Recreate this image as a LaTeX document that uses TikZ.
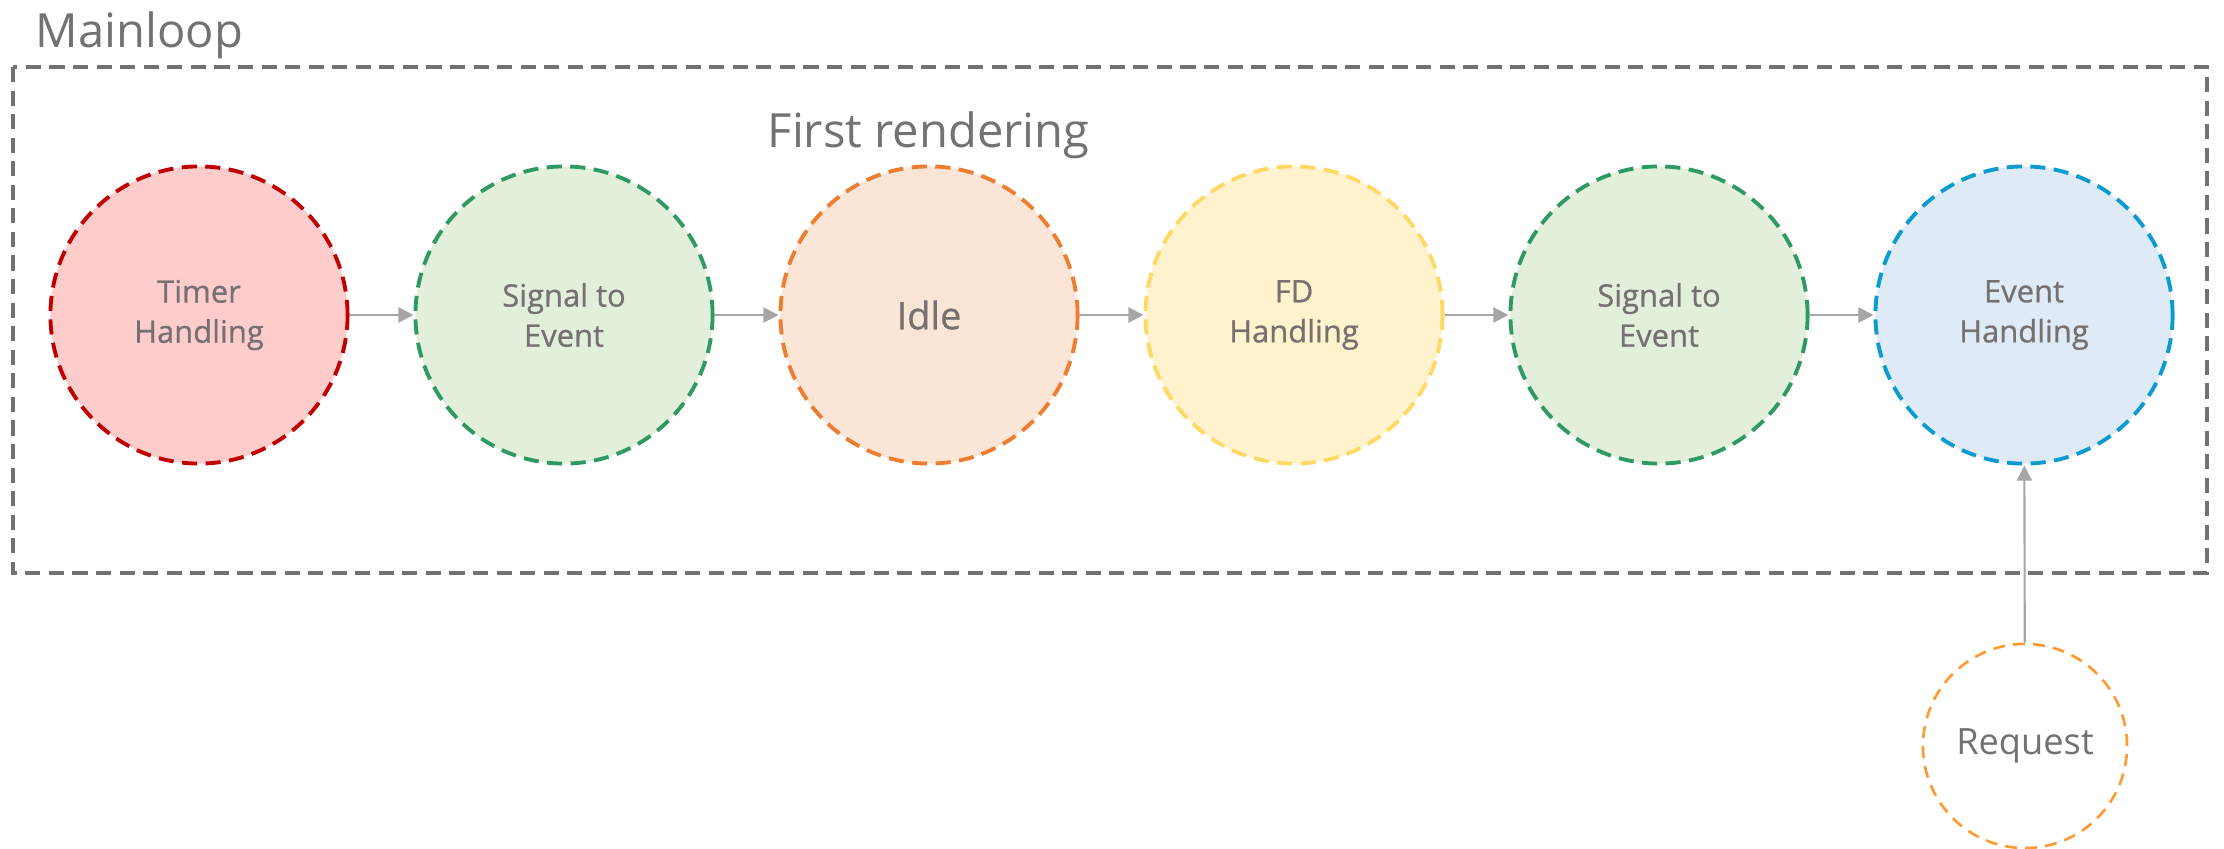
\documentclass[tikz,border=0pt]{standalone}
\usepackage{fontspec}
\setmainfont{Open Sans}
\newfontfamily\stagefont[FakeBold=0.7]{Open Sans}
\usepackage{tikz}
\usetikzlibrary{arrows.meta}
\definecolor{txtgray}{HTML}{767171}
\definecolor{arrowgray}{HTML}{A6A6A6}
\definecolor{timerfill}{HTML}{FFCCCC}
\definecolor{timerline}{HTML}{C00000}
\definecolor{sigfill}{HTML}{E2EFDA}
\definecolor{sigline}{HTML}{2E9962}
\definecolor{idlefill}{HTML}{FBE5D6}
\definecolor{idleline}{HTML}{ED7D31}
\definecolor{fdfill}{HTML}{FFF2CC}
\definecolor{fdline}{HTML}{FFD966}
\definecolor{eventfill}{HTML}{DEEBF7}
\definecolor{eventline}{HTML}{0C9BCF}
\definecolor{reqline}{HTML}{FF9A33}

\begin{document}
\begin{tikzpicture}[x=0.01cm, y=-0.01cm,
  stage/.style={circle, minimum size=2.97cm, inner sep=0pt, line width=1.1pt, dash pattern=on 4.3pt off 2.4pt, align=center, text=txtgray, font=\stagefont\fontsize{8.8pt}{11.4pt}\selectfont},
  title/.style={anchor=base west, inner sep=0pt, text=txtgray, font=\fontsize{13.4pt}{16pt}\selectfont},
  flow/.style={-{Triangle[length=4.3pt,width=4.3pt]}, draw=arrowgray, line width=0.6pt}]
\useasboundingbox (0,0) rectangle (2224,848);
\draw[draw=txtgray, line width=1.4pt, dash pattern=on 4.3pt off 2.4pt] (13,67) rectangle (2207,573);
\node[title] (mainloop) at (35,47) {Mainloop};
\node[title] (firstrender) at (767,147) {First rendering};
\node[stage, fill=timerfill, draw=timerline] (timer) at (199,315) {Timer\\Handling};
\node[stage, fill=sigfill, draw=sigline] (sigA) at (564,315) {Signal to\\Event};
\node[stage, fill=idlefill, draw=idleline, font=\stagefont\fontsize{10.8pt}{13pt}\selectfont] (idle) at (929,315) {Idle};
\node[stage, fill=fdfill, draw=fdline] (fd) at (1294,315) {FD\\Handling};
\node[stage, fill=sigfill, draw=sigline] (sigB) at (1659,315) {Signal to\\Event};
\node[stage, fill=eventfill, draw=eventline] (event) at (2024,315) {Event\\Handling};
\node[stage, minimum size=2.04cm, line width=0.75pt, dash pattern=on 3.4pt off 2.3pt, fill=white, draw=reqline, font=\fontsize{10.3pt}{12pt}\selectfont] (request) at (2025,746) {Request};
\draw[flow] (timer) -- (sigA);
\draw[flow] (sigA) -- (idle);
\draw[flow] (idle) -- (fd);
\draw[flow] (fd) -- (sigB);
\draw[flow] (sigB) -- (event);
\draw[flow] (request) -- (event);
\end{tikzpicture}
\end{document}
